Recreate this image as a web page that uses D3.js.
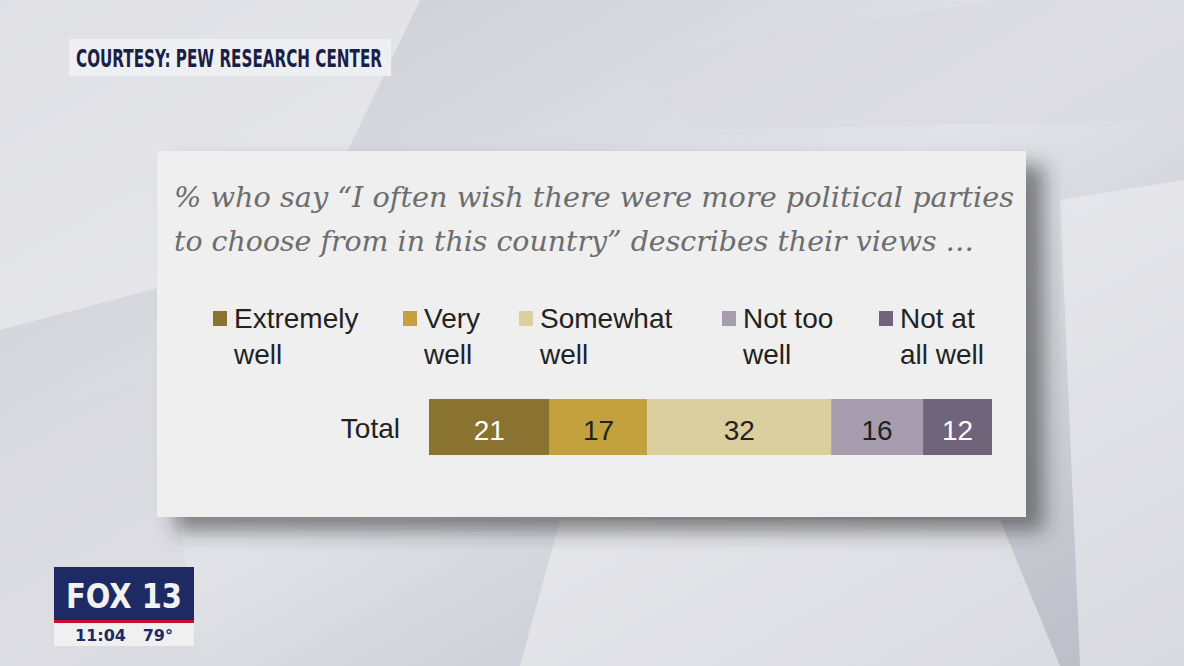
<!DOCTYPE html>
<html><head><meta charset="utf-8">
<script src="https://cdn.jsdelivr.net/npm/d3@7"></script>
<style>body{margin:0;overflow:hidden}</style>
</head><body><svg id="chart"></svg>
<script>
// Data
const categories = ["Extremely well", "Very well", "Somewhat well", "Not too well", "Not at all well"];
const legendLines = [["Extremely", "well"], ["Very", "well"], ["Somewhat", "well"], ["Not too", "well"], ["Not at", "all well"]];
const values = [21, 17, 32, 16, 12];
const colors = ["#8a7230", "#c3a23d", "#dccf9f", "#a59cae", "#6f6479"];
const labelColors = ["#fff", "#222", "#222", "#222", "#fff"];
const rowLabel = "Total";

const W = 1184, H = 666;
const svg = d3.select("#chart").attr("width", W).attr("height", H);
const defs = svg.append("defs");
const g = defs.append("linearGradient").attr("id", "bg").attr("x1", 0).attr("y1", 0).attr("x2", 1).attr("y2", 1);
g.append("stop").attr("offset", 0).attr("stop-color", "#c9cad1");
g.append("stop").attr("offset", 0.5).attr("stop-color", "#e2e3e8");
g.append("stop").attr("offset", 1).attr("stop-color", "#b9bbc5");
svg.append("rect").attr("width", W).attr("height", H).attr("fill", "url(#bg)");

// background shapes
const shapes = [
  [[0,0],[420,0],[300,250],[0,330]],
  [[620,60],[1000,0],[1184,0],[1184,120],[700,130]],
  [[1060,200],[1184,180],[1184,666],[1080,666]],
  [[0,420],[160,380],[200,666],[0,666]],
  [[560,520],[1000,520],[1060,666],[520,666]]
];
svg.append("g").selectAll("path").data(shapes).join("path")
  .attr("d", d => "M" + d.join("L") + "Z")
  .attr("fill", (d, i) => i % 2 ? "#d8d9df" : "#eeeef2").attr("opacity", 0.6);

const f = defs.append("filter").attr("id", "sh").attr("x", -0.1).attr("y", -0.1).attr("width", 1.3).attr("height", 1.3);
f.append("feDropShadow").attr("dx", 18).attr("dy", 14).attr("stdDeviation", 10).attr("flood-color", "#333").attr("flood-opacity", 0.55);

// courtesy box
svg.append("rect").attr("x", 69).attr("y", 39).attr("width", 322).attr("height", 37).attr("fill", "#eeeff3");
svg.append("text").attr("x", 76).attr("y", 67).text("COURTESY: PEW RESEARCH CENTER")
  .attr("font-family", "Liberation Sans Narrow, DejaVu Sans Condensed, sans-serif").attr("font-weight", "bold")
  .attr("font-size", 25).attr("fill", "#1b1f45").attr("textLength", 306).attr("lengthAdjust", "spacingAndGlyphs");

// card
svg.append("rect").attr("x", 157).attr("y", 151).attr("width", 869).attr("height", 366).attr("fill", "#efefef").attr("filter", "url(#sh)");

const title = ["% who say \u201cI often wish there were more political parties", "to choose from in this country\u201d describes their views \u2026"];
svg.selectAll(".title").data(title).join("text")
  .attr("x", 174).attr("y", (d, i) => 207 + i * 44).text(d => d)
  .attr("font-family", "DejaVu Serif, serif").attr("font-style", "italic").attr("font-size", 27).attr("fill", "#6d6d6d")
  .attr("textLength", (d, i) => i ? 800 : 840).attr("lengthAdjust", "spacingAndGlyphs");

const font = "Liberation Sans, Arial, sans-serif";
const legX = [234, 424, 540, 743, 900];
const leg = svg.append("g").selectAll("g").data(categories).join("g").attr("transform", (d, i) => `translate(${legX[i]},0)`);
leg.append("rect").attr("x", -21).attr("y", 311).attr("width", 14).attr("height", 15).attr("fill", (d, i) => colors[i]);
leg.each(function (d, i) {
  d3.select(this).selectAll("text").data(legendLines[i]).join("text")
    .attr("x", 0).attr("y", (t, j) => 328 + j * 36).text(t => t)
    .attr("font-family", font).attr("font-size", 28).attr("fill", "#222");
});

// bar
const x = d3.scaleLinear().domain([0, d3.sum(values)]).range([429, 992]);
let acc = 0;
const segs = values.map((v, i) => { const s = { v, i, x0: acc }; acc += v; return s; });
const bar = svg.append("g").selectAll("g").data(segs).join("g");
bar.append("rect").attr("x", d => x(d.x0)).attr("y", 399).attr("height", 56)
  .attr("width", d => x(d.x0 + d.v) - x(d.x0)).attr("fill", d => colors[d.i]);
bar.append("text").attr("x", d => (x(d.x0) + x(d.x0 + d.v)) / 2).attr("y", 440).attr("text-anchor", "middle")
  .text(d => d.v).attr("font-family", font).attr("font-size", 28).attr("fill", d => labelColors[d.i]);
svg.append("text").attr("x", 400).attr("y", 438).attr("text-anchor", "end").text(rowLabel)
  .attr("font-family", font).attr("font-size", 28).attr("fill", "#222");

// station bug
svg.append("rect").attr("x", 54).attr("y", 567).attr("width", 140).attr("height", 79).attr("fill", "#f0f0f0");
svg.append("rect").attr("x", 54).attr("y", 567).attr("width", 140).attr("height", 55).attr("fill", "#1e2a63");
svg.append("rect").attr("x", 54).attr("y", 620).attr("width", 140).attr("height", 3).attr("fill", "#c8102e");
svg.append("text").attr("x", 124).attr("y", 608).attr("text-anchor", "middle").text("FOX 13")
  .attr("font-family", "DejaVu Sans, sans-serif").attr("font-weight", "bold").attr("font-size", 34).attr("fill", "#f2f2f2")
  .attr("textLength", 116).attr("lengthAdjust", "spacingAndGlyphs");
svg.append("text").attr("x", 124).attr("y", 641).attr("text-anchor", "middle").text("11:04   79\u00b0")
  .attr("font-family", "DejaVu Sans, sans-serif").attr("font-weight", "bold").attr("font-size", 16).attr("fill", "#1e2a63")
  .style("white-space", "pre");
</script></body></html>
